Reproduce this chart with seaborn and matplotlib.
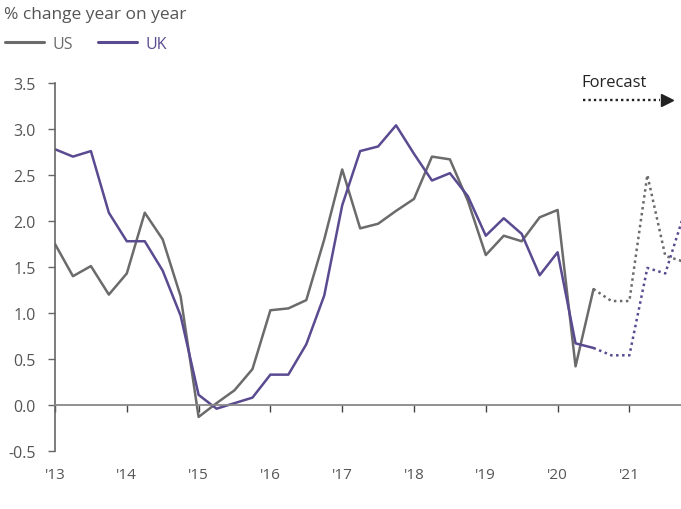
import numpy as np
import pandas as pd
import seaborn as sns
import matplotlib.pyplot as plt
from matplotlib.lines import Line2D

# quarterly CPI-style series, 2013 Q1 onwards (% change year on year)
quarters = list(range(0, 36))  # 0 = 2013 Q1 ... 35 = 2021 Q4

us_actual = [1.75, 1.40, 1.51, 1.20,
             1.43, 2.09, 1.80, 1.18,
             -0.13, 0.02, 0.16, 0.39,
             1.03, 1.05, 1.14, 1.80,
             2.56, 1.92, 1.97, 2.11,
             2.24, 2.70, 2.67, 2.22,
             1.63, 1.84, 1.78, 2.04,
             2.12, 0.42, 1.26]
uk_actual = [2.78, 2.70, 2.76, 2.09,
             1.78, 1.78, 1.46, 0.97,
             0.11, -0.04, 0.02, 0.08,
             0.33, 0.33, 0.66, 1.19,
             2.17, 2.76, 2.81, 3.04,
             2.73, 2.44, 2.52, 2.27,
             1.84, 2.03, 1.86, 1.41,
             1.66, 0.67, 0.62]

# forecast starts from the last actual quarter (2020 Q3)
us_forecast = [1.26, 1.13, 1.13, 2.50, 1.62, 1.56]
uk_forecast = [0.62, 0.54, 0.54, 1.49, 1.43, 2.05]

year_ticks = [0, 4, 8, 12, 16, 20, 24, 28, 32]
year_labels = ["'13", "'14", "'15", "'16", "'17", "'18", "'19", "'20", "'21"]
y_ticks = [-0.5, 0.0, 0.5, 1.0, 1.5, 2.0, 2.5, 3.0, 3.5]

us_color = '#6b6b6b'
uk_color = '#5a4a90'
text_color = '#555555'

n_act = len(us_actual)
actual = pd.DataFrame({
    'q': quarters[:n_act] * 2,
    'value': us_actual + uk_actual,
    'country': ['US'] * n_act + ['UK'] * n_act,
})
start = n_act - 1
fc_q = quarters[start:start + len(us_forecast)]
forecast = pd.DataFrame({
    'q': fc_q * 2,
    'value': us_forecast + uk_forecast,
    'country': ['US'] * len(fc_q) + ['UK'] * len(fc_q),
})

sns.set_style('white')
plt.rcParams['font.family'] = ['Open Sans', 'DejaVu Sans']

fig = plt.figure(figsize=(6.81, 5.10), dpi=100)
ax = fig.add_axes([55 / 681, 1 - 452 / 510, 626 / 681, 368 / 510])

pal = {'US': us_color, 'UK': uk_color}
sns.lineplot(data=actual, x='q', y='value', hue='country', palette=pal,
             linewidth=1.8, legend=False, ax=ax)
sns.lineplot(data=forecast, x='q', y='value', hue='country', palette=pal,
             linewidth=1.8, linestyle=(0, (1, 1.4)), legend=False, ax=ax)

ax.set_xlim(0, 626 / 17.95)
ax.set_ylim(-0.5, 3.5)
ax.set_xlabel('')
ax.set_ylabel('')

# axes: left spine + zero line carrying the year ticks
for s in ['top', 'right']:
    ax.spines[s].set_visible(False)
ax.spines['left'].set_color('#666666')
ax.spines['left'].set_linewidth(1.2)
ax.spines['bottom'].set_position(('data', 0))
ax.spines['bottom'].set_color('#888888')
ax.spines['bottom'].set_linewidth(1.3)

ax.set_yticks(y_ticks)
ax.set_yticklabels(['%.1f' % v for v in y_ticks])
ax.set_xticks(year_ticks)
ax.set_xticklabels(year_labels)
ax.tick_params(axis='y', direction='out', length=5, width=1, color='#666666',
               labelsize=11.5, labelcolor=text_color, pad=9, left=True)
ax.tick_params(axis='x', direction='out', length=5, width=1, color='#444444',
               labelsize=11, labelcolor=text_color, pad=40, bottom=True)

# forecast marker
ax.plot([0.843, 0.966], [0.954, 0.954], transform=ax.transAxes, color='#222222',
        linewidth=1.7, linestyle=(0, (1, 1.3)), clip_on=False)
ax.plot([0.978], [0.954], transform=ax.transAxes, marker='>', markersize=9,
        color='#222222', clip_on=False)
ax.text(0.841, 1.003, 'Forecast', transform=ax.transAxes, fontsize=12,
        color='#222222', ha='left', va='center')

# title and legend
fig.text(4 / 681, 1 - 15 / 510, '% change year on year', fontsize=12.5,
         color=text_color, ha='left', va='center')
handles = [Line2D([0], [0], color=us_color, linewidth=2.2),
           Line2D([0], [0], color=uk_color, linewidth=2.2)]
leg = fig.legend(handles, ['US', 'UK'], loc='center left',
                 bbox_to_anchor=(2 / 681, 1 - 45 / 510), ncol=2, frameon=False,
                 fontsize=11.5, handlelength=2.4, handletextpad=0.55,
                 columnspacing=1.6, borderaxespad=0, borderpad=0.2)
for t, c in zip(leg.get_texts(), [us_color, uk_color]):
    t.set_color(c)

fig.savefig('out.png', dpi=100)
